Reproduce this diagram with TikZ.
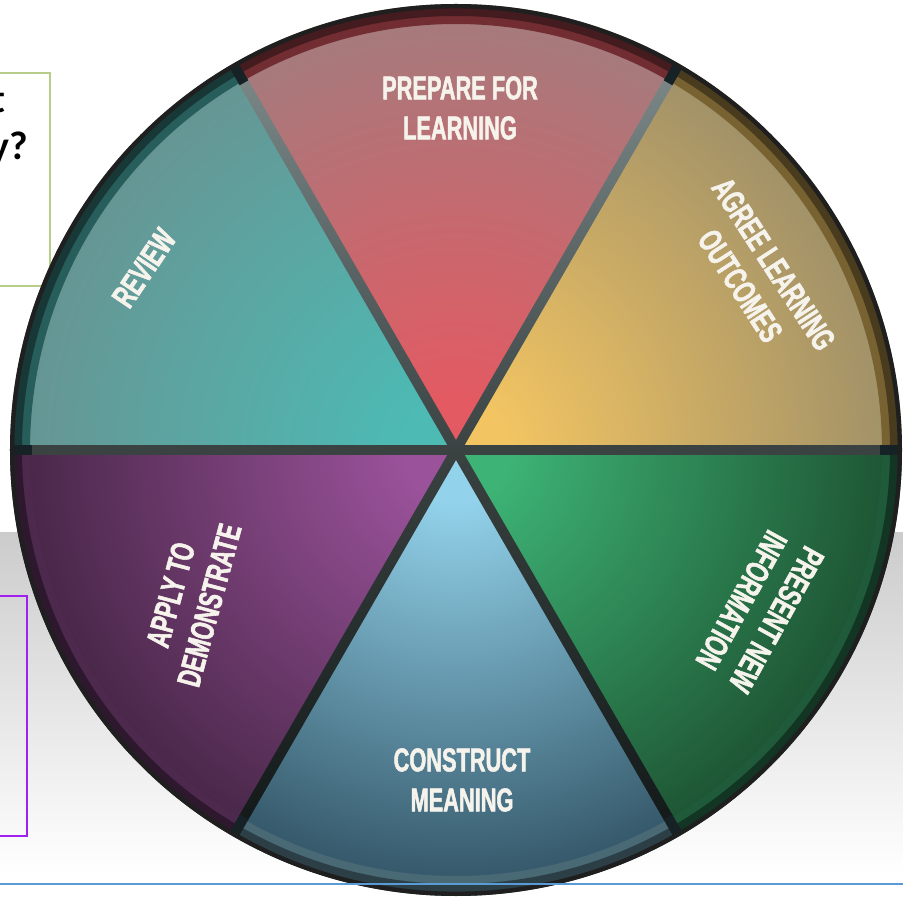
\documentclass[tikz,border=0pt]{standalone}
\usepackage{fontspec}
\newfontfamily\labelfont[FakeStretch=0.66,FakeBold=1.6]{Liberation Sans}
\newfontfamily\boxfont{Carlito}

\definecolor{prepcol}{HTML}{E35A63}
\definecolor{agreecol}{HTML}{F2C462}
\definecolor{presentcol}{HTML}{3DB375}
\definecolor{constructcol}{HTML}{92D2EA}
\definecolor{applycol}{HTML}{9A529A}
\definecolor{reviewcol}{HTML}{4DBAB4}
\definecolor{prepedge}{HTML}{A67A7C}
\definecolor{agreeedge}{HTML}{A29268}
\definecolor{reviewedge}{HTML}{669694}
\definecolor{presentedge}{HTML}{1E5634}
\definecolor{constructedge}{HTML}{36596B}
\definecolor{applyedge}{HTML}{4A284A}
\definecolor{spokecol}{HTML}{3A4242}
\definecolor{spoketop}{HTML}{7A8686}
\definecolor{spokelow}{HTML}{141A1A}
\definecolor{rimspokecol}{HTML}{172226}
\definecolor{boxgreen}{HTML}{B6CE8A}
\definecolor{boxpurple}{HTML}{A020F0}
\definecolor{rulecol}{HTML}{5B9BD5}
\definecolor{labelwhite}{HTML}{F6F3EC}
\colorlet{wcin}{prepcol}
\colorlet{wcout}{prepedge}

\pgfdeclareradialshading[wcin,wcout]{wheelrad}{\pgfpointorigin}{color(0bp)=(wcin); color(3bp)=(wcin); color(24bp)=(wcout); color(50bp)=(wcout)}

\begin{document}
\begin{tikzpicture}[x=0.5pt,y=0.5pt,
  wheellabel/.style={text=labelwhite,align=center,inner sep=0pt,
    font=\labelfont\bfseries\fontsize{16.5}{20}\selectfont},
  boxtext/.style={inner sep=0pt,font=\boxfont\bfseries\fontsize{20}{24}\selectfont}]
\useasboundingbox (-456,-448) rectangle (447,450);

% page behind the wheel
\shade[top color=black!20,bottom color=white] (-456,-83) rectangle (447,-425);
\draw[line width=0.8pt,boxgreen] (-470,377) rectangle (-406,164);
\node[boxtext,anchor=base east] (qa) at (-450,337) {t};
\node[boxtext,anchor=base east] (qb) at (-428,290) {y?};
\draw[line width=0.8pt,boxpurple] (-470,-146) rectangle (-429,-386);

% sectors, bright in the middle
\foreach \a/\c/\o in {0/agreecol/agreeedge,60/prepcol/prepedge,120/reviewcol/reviewedge,
    180/applycol/applyedge,240/constructcol/constructedge,300/presentcol/presentedge}{
  \colorlet{wcin}{\c}\colorlet{wcout}{\o}
  \begin{scope}
    \clip (0,0) -- (\a:446) arc[start angle=\a,end angle=\a+60,radius=446] -- cycle;
    \shade[shading=wheelrad] (0,0) circle (446);
  \end{scope}
}

% spokes
\fill[spokecol] (-426,-5) rectangle (426,5);
\foreach \a in {60,120}
  \shade[rotate=\a,top color=spoketop,bottom color=spokecol] (0,-5) rectangle (426,5);
\foreach \a in {240,300}
  \shade[rotate=\a,top color=spokecol,bottom color=spokelow] (0,-5) rectangle (426,5);

% rim
\foreach \a/\c in {0/agreecol,60/prepcol,120/reviewcol,180/applycol,240/constructcol,300/presentcol}{
  \fill[\c!50!black] (\a:426) arc[start angle=\a,end angle=\a+60,radius=426]
    -- (\a+60:443) arc[start angle=\a+60,end angle=\a,radius=443] -- cycle;
  \fill[\c!30!black] (\a:434) arc[start angle=\a,end angle=\a+60,radius=434]
    -- (\a+60:443) arc[start angle=\a+60,end angle=\a,radius=443] -- cycle;
}
\foreach \a in {0,60,...,300}
  \draw[line width=5pt,rimspokecol] (\a:424) -- (\a:443);
\draw[line width=2.2pt,black!88] (0,0) circle (443.8);

\node[wheellabel] (prepare) at (4,342) {PREPARE FOR\\LEARNING};
\node[wheellabel,rotate=-57] (agree) at (301,175) {AGREE LEARNING\\OUTCOMES};
\node[wheellabel,rotate=-119] (present) at (303,-160) {PRESENT NEW\\INFORMATION};
\node[wheellabel] (construct) at (6,-330) {CONSTRUCT\\MEANING};
\node[wheellabel,rotate=75] (apply) at (-266,-150) {APPLY TO\\DEMONSTRATE};
\node[wheellabel,rotate=56] (review) at (-312,182) {REVIEW};

\draw[line width=1pt,rulecol] (-456,-434) -- (447,-434);
\end{tikzpicture}
\end{document}
